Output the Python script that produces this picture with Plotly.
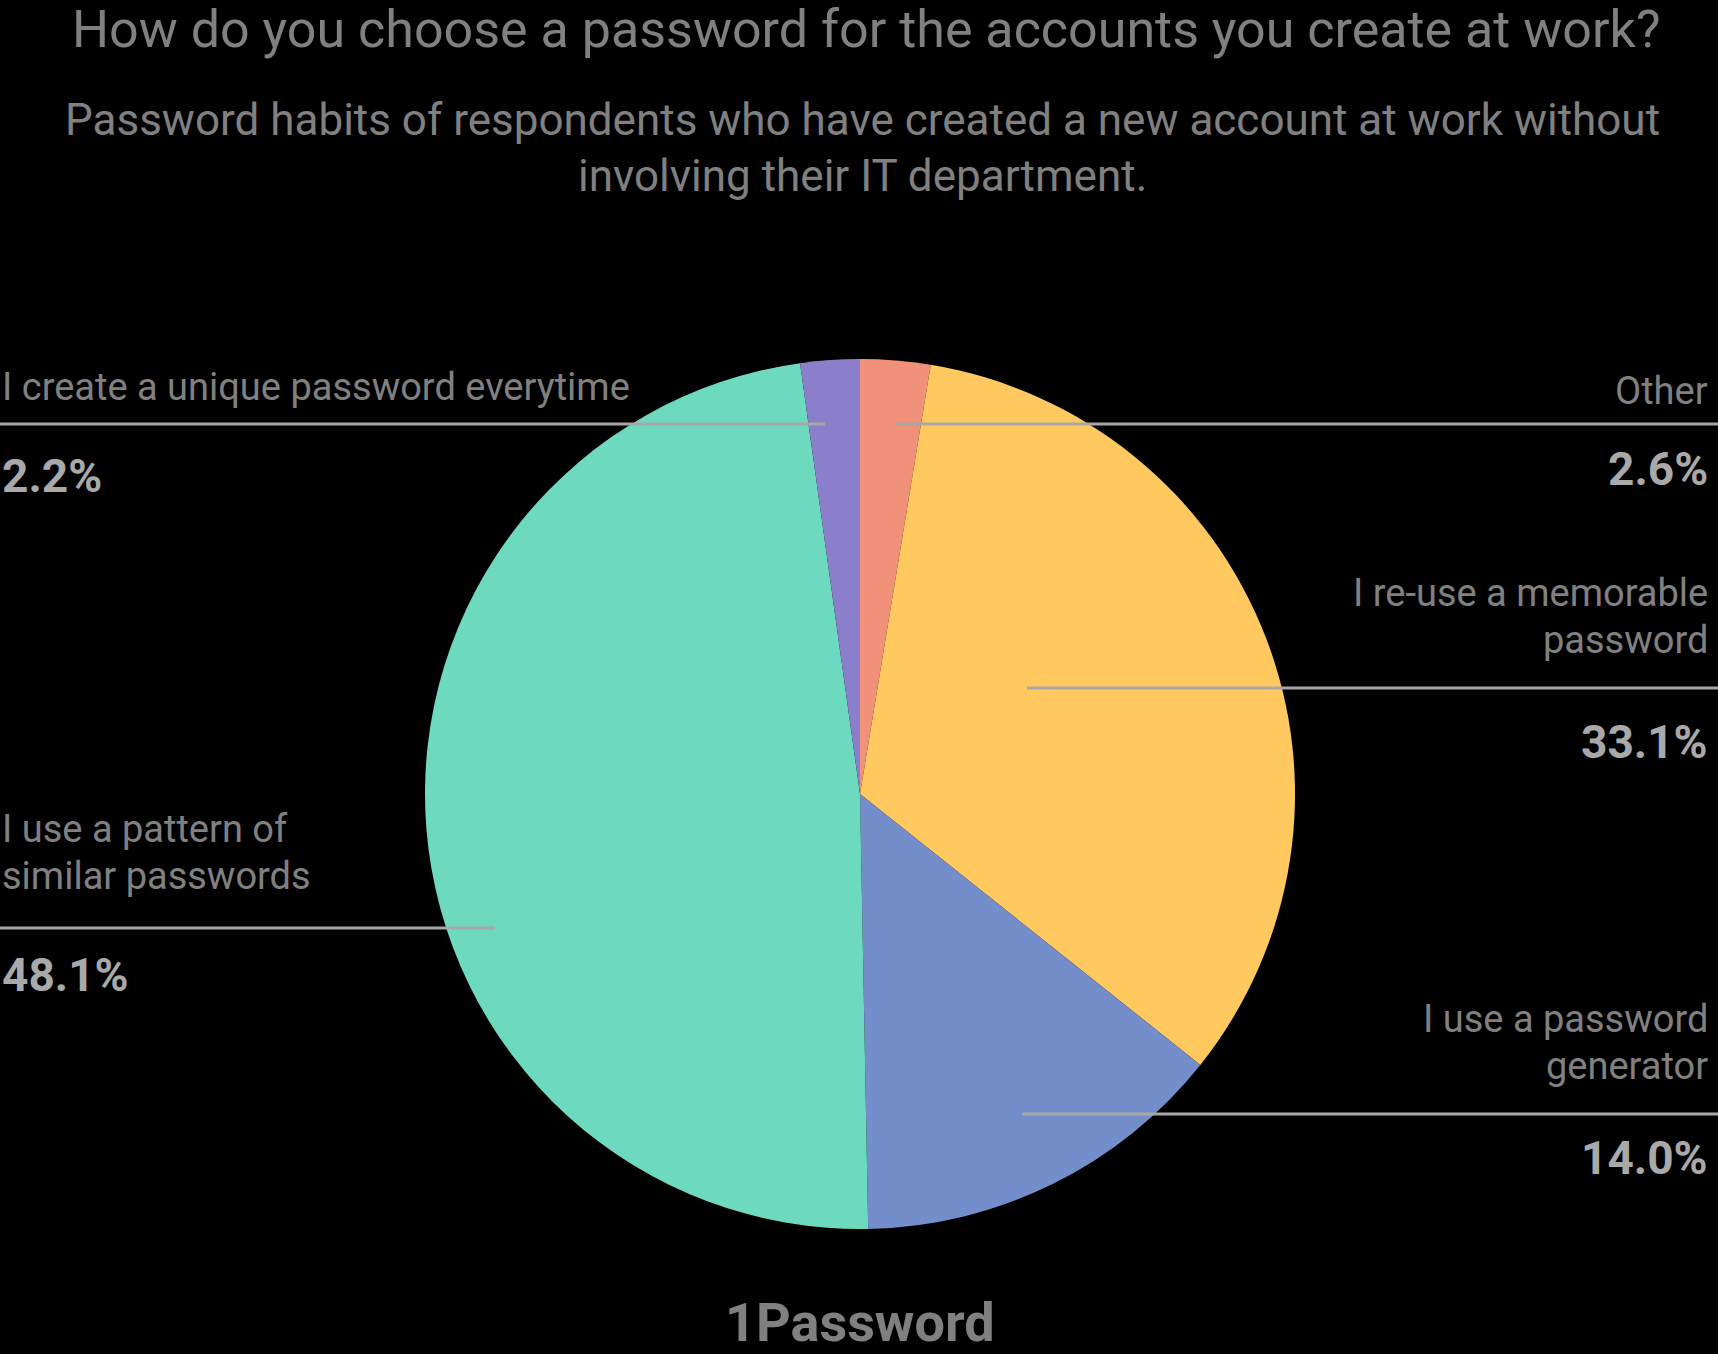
import plotly.graph_objects as go

# ---- data ----
categories = [
    "Other",
    "I re-use a memorable password",
    "I use a password generator",
    "I use a pattern of similar passwords",
    "I create a unique password everytime",
]
values = [2.6, 33.1, 14.0, 48.1, 2.2]
label_lines = [
    ["Other"],
    ["I re-use a memorable", "password"],
    ["I use a password", "generator"],
    ["I use a pattern of", "similar passwords"],
    ["I create a unique password everytime"],
]
colors = ["#F2917A", "#FFC960", "#748ECB", "#6DD9BF", "#8B7FCC"]

title = "How do you choose a password for the accounts you create at work?"
subtitle_lines = [
    "Password habits of respondents who have created a new account at work without",
    "involving their IT department.",
]
footer = "1Password"

W, H = 1718, 1354
FONT = "Roboto"
TEXT_GREY = "#808080"
PCT_GREY = "#A9A9A9"
LINE_GREY = "#A8A8A8"

def px(x):
    return x / W

def py(y):
    return 1 - y / H

cx, cy, r = 860, 794, 435

fig = go.Figure(
    go.Pie(
        labels=categories,
        values=values,
        sort=False,
        direction="clockwise",
        rotation=0,
        marker=dict(colors=colors, line=dict(width=0)),
        textinfo="none",
        hoverinfo="label+percent",
        showlegend=False,
        domain=dict(x=[px(cx - r), px(cx + r)], y=[py(cy + r), py(cy - r)]),
    )
)

# label layout: (side, line_y, inner_x, first text line y)
layout_pos = [
    ("right", 424, 896, 391),
    ("right", 688, 1027, 593),
    ("right", 1114, 1022, 1019),
    ("left", 928, 495, 829),
    ("left", 424, 825, 387),
]
pct_y = [469, 742, 1158, 975, 476]

annotations = []
shapes = []
LINE_SP = 47
for i, (side, ly, ix, ty) in enumerate(layout_pos):
    ex = W if side == "right" else 0
    shapes.append(dict(type="line", xref="paper", yref="paper",
                       x0=px(ix), x1=px(ex), y0=py(ly), y1=py(ly),
                       line=dict(color=LINE_GREY, width=3), layer="above"))
    tx = px(W - 8) if side == "right" else px(0)
    anchor = "right" if side == "right" else "left"
    for k, line in enumerate(label_lines[i]):
        annotations.append(dict(text=line, x=tx, y=py(ty + k * LINE_SP),
                                xref="paper", yref="paper", xanchor=anchor,
                                yanchor="middle", showarrow=False,
                                align=anchor,
                                font=dict(family=FONT, size=38, color=TEXT_GREY)))
    annotations.append(dict(text=f"{values[i]:.1f}%", x=tx, y=py(pct_y[i]),
                            xref="paper", yref="paper", xanchor=anchor,
                            yanchor="middle", showarrow=False,
                            font=dict(family=FONT, size=46, color=PCT_GREY,
                                      weight="bold")))

annotations.append(dict(text=title, x=px(866), y=py(30), xref="paper", yref="paper",
                        xanchor="center", yanchor="middle", showarrow=False,
                        font=dict(family=FONT, size=52, color=TEXT_GREY)))
for k, line in enumerate(subtitle_lines):
    annotations.append(dict(text=line, x=px(862), y=py(120 + k * 56), xref="paper",
                            yref="paper", xanchor="center", yanchor="middle",
                            showarrow=False,
                            font=dict(family=FONT, size=44, color=TEXT_GREY)))
annotations.append(dict(text=f"<b>{footer}</b>", x=px(860), y=py(1322), xref="paper",
                        yref="paper", xanchor="center", yanchor="middle",
                        showarrow=False,
                        font=dict(family=FONT, size=54, color=TEXT_GREY)))

fig.update_layout(
    width=W, height=H,
    margin=dict(l=0, r=0, t=0, b=0),
    paper_bgcolor="#000000",
    plot_bgcolor="#000000",
    annotations=annotations,
    shapes=shapes,
)

fig.write_html(
    "out.html",
    config={"displayModeBar": False},
    post_script="document.body.style.margin='0';document.body.style.background='#000';",
)
